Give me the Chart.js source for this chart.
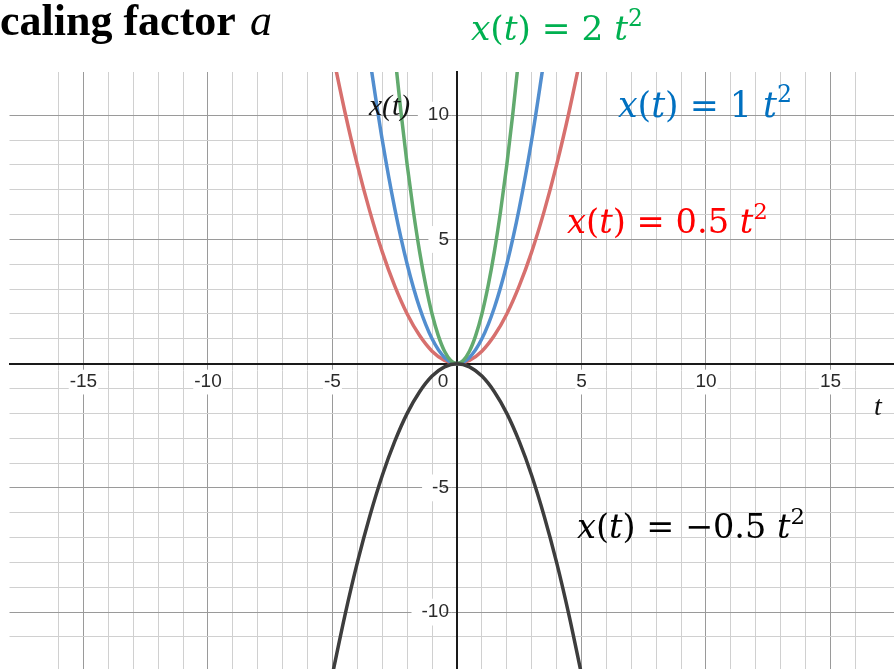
<!DOCTYPE html>
<html><head><meta charset="utf-8">
<script src="https://cdn.jsdelivr.net/npm/chart.js@4.4.1/dist/chart.umd.min.js"></script>
<style>html,body{margin:0;padding:0;background:#fff;overflow:hidden}#wrap{width:894px;height:669px;position:relative}</style>
</head><body><div id="wrap"><canvas id="c" width="894" height="669"></canvas></div>
<script>
// ---- data ----
const tRed   = [-5,-4.5,-4,-3.5,-3,-2.5,-2,-1.5,-1,-0.5,0,0.5,1,1.5,2,2.5,3,3.5,4,4.5,5];
const xRed   = [12.5,10.13,8,6.13,4.5,3.13,2,1.13,0.5,0.13,0,0.13,0.5,1.13,2,3.13,4.5,6.13,8,10.13,12.5];
const tBlue  = [-3.5,-3,-2.5,-2,-1.5,-1,-0.5,0,0.5,1,1.5,2,2.5,3,3.5];
const xBlue  = [12.25,9,6.25,4,2.25,1,0.25,0,0.25,1,2.25,4,6.25,9,12.25];
const tGreen = [-2.5,-2.25,-2,-1.75,-1.5,-1.25,-1,-0.75,-0.5,-0.25,0,0.25,0.5,0.75,1,1.25,1.5,1.75,2,2.25,2.5];
const xGreen = [12.5,10.13,8,6.13,4.5,3.13,2,1.13,0.5,0.13,0,0.13,0.5,1.13,2,3.13,4.5,6.13,8,10.13,12.5];
const tBlack = [-5,-4.5,-4,-3.5,-3,-2.5,-2,-1.5,-1,-0.5,0,0.5,1,1.5,2,2.5,3,3.5,4,4.5,5];
const xBlack = [-12.5,-10.13,-8,-6.13,-4.5,-3.13,-2,-1.13,-0.5,-0.13,0,-0.13,-0.5,-1.13,-2,-3.13,-4.5,-6.13,-8,-10.13,-12.5];
const xTickLabels = [-15,-10,-5,5,10,15];
const yTickLabels = [-10,-5,5,10];
const seriesNames = ['x(t) = 0.5 t²','x(t) = 1 t²','x(t) = 2 t²','x(t) = −0.5 t²'];
const titleText = 'Scaling factor';

function pts(ts, xs){ return ts.map((t,i)=>({x:t,y:xs[i]})); }

const gridColor = (ctx) => {
  const v = ctx.tick ? ctx.tick.value : NaN;
  if (!Number.isInteger(v)) return 'rgba(0,0,0,0)';
  return v % 5 === 0 ? '#9a9a9a' : '#d0d0d0';
};
const hasLabel = (list) => (ctx) => !!(ctx.tick && list.includes(ctx.tick.value));

function ds(label, data, color){
  return {label, data, borderColor: color, borderWidth: 3.5, pointRadius: 0, showLine: true,
    fill: false, cubicInterpolationMode: 'monotone', clip: 0};
}

function drawMath(ctx, pieces, x, baseline, targetW, color){
  const fam = '"DejaVu Serif", "Liberation Serif", serif';
  function lay(size){
    let w = 0; const items = [];
    for (const p of pieces){
      const fs = p[2] ? size*0.68 : size;
      const font = (p[1] ? 'italic ' : '') + fs + 'px ' + fam;
      ctx.font = font;
      const wd = ctx.measureText(p[0]).width;
      items.push({t:p[0], sup:p[2], font, x:w});
      w += wd;
    }
    return {w, items};
  }
  let L = lay(34);
  const size = 34 * targetW / L.w;
  L = lay(size);
  ctx.fillStyle = color; ctx.textAlign = 'left'; ctx.textBaseline = 'alphabetic';
  for (const it of L.items){
    ctx.font = it.font;
    ctx.fillText(it.t, x + it.x, baseline - (it.sup ? size*0.42 : 0));
  }
}
function pieces(coef){
  return [['x',1],['(',0],['t',1],[')',0],[' = ',0],[coef,0],[' ',0],['t',1],['2',0,1]];
}

// shift the y-axis tick labels a little to the left of the axis line
const yLabelShift = {
  id: 'yLabelShift',
  beforeDraw(chart){
    const s = chart.scales.y;
    if (!s || !s.getLabelItems) return;
    const items = s.getLabelItems(chart.chartArea);
    if (items.__shifted) return;
    items.forEach(it => {
      if (it.options && it.options.translation) it.options.translation[0] -= 8;
      if (it.options && it.options.backdrop) it.options.backdrop.left -= 8;
    });
    items.__shifted = true;
  }
};

const textPlugin = {
  id: 'texts',
  afterDraw(chart){
    const ctx = chart.ctx;
    ctx.save();
    ctx.font = 'bold 44px "Liberation Serif", serif';
    const sW = ctx.measureText('S').width;
    ctx.fillStyle = '#000'; ctx.textAlign = 'left'; ctx.textBaseline = 'alphabetic';
    ctx.fillText(titleText, -sW, 35);
    ctx.font = 'italic 44px "Liberation Serif", serif';
    ctx.fillText('a', 250, 35);
    // axis names
    ctx.fillStyle = '#111';
    ctx.font = 'italic 28px "Liberation Serif", serif';
    const w = ctx.measureText('x(t)').width;
    const fs = 28 * 41 / w;
    ctx.font = 'italic ' + fs + 'px "Liberation Serif", serif';
    ctx.fillText('x(t)', 369, 115);
    ctx.font = 'italic 28px "Liberation Serif", serif';
    ctx.fillText('t', 874, 415);
    // origin label
    ctx.font = '19px "Liberation Sans", Arial, sans-serif';
    ctx.fillStyle = '#2a2a2a'; ctx.textAlign = 'center'; ctx.textBaseline = 'middle';
    ctx.fillText('0', 443, 382);
    // series labels
    drawMath(ctx, pieces('2'), 471, 40, 172, '#00b050');
    drawMath(ctx, pieces('1'), 618, 117, 174, '#0070c0');
    drawMath(ctx, pieces('0.5'), 567, 233, 201, '#ff0000');
    drawMath(ctx, pieces('−0.5'), 577, 538, 228, '#000000');
    ctx.restore();
  }
};

const tickFont = {family: '"Liberation Sans", Arial, sans-serif', size: 19};

new Chart(document.getElementById('c'), {
  type: 'scatter',
  data: { datasets: [
    ds(seriesNames[3], pts(tBlack, xBlack), '#3d3d3d'),
    ds(seriesNames[2], pts(tGreen, xGreen), '#62aa6e'),
    ds(seriesNames[1], pts(tBlue, xBlue), '#528ecf'),
    ds(seriesNames[0], pts(tRed, xRed), '#d7706e'),
  ]},
  options: {
    responsive: false, animation: false, devicePixelRatio: 1,
    layout: {padding: {left: 9.5, top: 72, right: 0, bottom: 0}},
    plugins: {legend: {display: false}, tooltip: {enabled: false}},
    scales: {
      x: {
        type: 'linear', min: -17.97, max: 17.55, position: {y: 0},
        grid: {color: gridColor, lineWidth: 1, z: -1, drawTicks: true, tickLength: 7, tickColor: 'rgba(0,0,0,0)'},
        border: {color: '#1a1a1a', width: 2, z: 0},
        ticks: {stepSize: 1, autoSkip: false, maxRotation: 0, minRotation: 0, padding: 0, z: 1,
          font: tickFont, color: '#2a2a2a',
          callback: (v) => xTickLabels.includes(v) ? String(v) : [],
          showLabelBackdrop: hasLabel(xTickLabels), backdropColor: '#ffffff', backdropPadding: 1}
      },
      y: {
        type: 'linear', min: -12.29, max: 11.74, position: {x: 0},
        grid: {color: gridColor, lineWidth: 1, z: -1, drawTicks: true, tickLength: 7, tickColor: 'rgba(0,0,0,0)'},
        border: {color: '#1a1a1a', width: 2, z: 0},
        ticks: {stepSize: 1, autoSkip: false, padding: 0, z: 1,
          font: tickFont, color: '#2a2a2a',
          callback: (v) => yTickLabels.includes(v) ? String(v) : [],
          showLabelBackdrop: hasLabel(yTickLabels), backdropColor: '#ffffff', backdropPadding: 2}
      }
    }
  },
  plugins: [yLabelShift, textPlugin]
});
</script></body></html>
